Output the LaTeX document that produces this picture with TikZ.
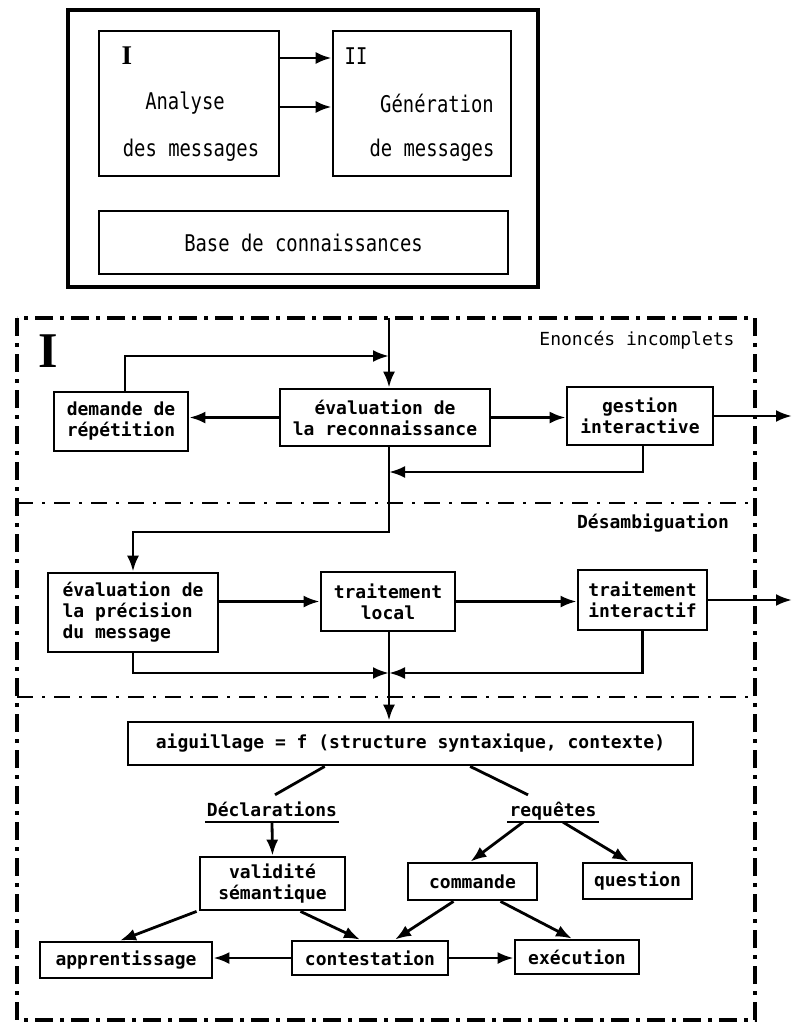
\documentclass[tikz,border=0pt]{standalone}
\usepackage{fontspec}
\usetikzlibrary{arrows.meta,calc}
\newfontfamily\monof{DejaVu Sans Mono}
\newfontfamily\tallf[FakeStretch=0.82]{DejaVu Sans Mono}
\newfontfamily\romanI{Liberation Serif}

\begin{document}
\begin{tikzpicture}[x=1pt,y=-1pt,
  box/.style={draw, line width=2.8pt, inner sep=0pt, align=center,
    font=\monof\bfseries\fontsize{18}{21}\selectfont},
  bigbox/.style={draw, line width=2.8pt, inner sep=0pt},
  toptext/.style={inner sep=0pt, font=\tallf\fontsize{23}{26}\selectfont},
  lab/.style={inner sep=0pt, font=\monof\fontsize{18}{22}\selectfont},
  labb/.style={inner sep=0pt, font=\monof\bfseries\fontsize{18}{22}\selectfont},
  branch/.style={anchor=base, inner xsep=2pt, inner ysep=2pt, text height=13pt,
    text depth=4pt, font=\monof\bfseries\fontsize{18}{22}\selectfont},
  arr/.style={line width=2.8pt, -{Latex[length=16pt,width=12pt]}},
  link/.style={line width=2.8pt},
  frame/.style={line width=3.4pt, dash pattern=on 18pt off 7pt on 4pt off 7pt},
  sep/.style={line width=2.2pt, dash pattern=on 16pt off 9pt on 3pt off 9pt},
]
\useasboundingbox (0,0) rectangle (792,1028);

% ---------- overall system ----------
\node[draw, line width=4pt, minimum width=470pt, minimum height=277pt] (sys) at (303,148.5) {};
\node[bigbox, minimum width=180pt, minimum height=145pt] (ana) at (189,103.5) {};
\node[bigbox, minimum width=178pt, minimum height=145pt] (gen) at (422,103.5) {};
\node[bigbox, minimum width=409pt, minimum height=63pt, font=\tallf\fontsize{23}{26}\selectfont] (kb) at (303.5,242.5) {Base de connaissances};

\node[inner sep=0pt, font=\romanI\bfseries\fontsize{27}{30}\selectfont] (anaI) at (127,56) {I};
\node[toptext] (genII) at (356,56) {II};
\node[toptext] (ana1) at (185,103) {Analyse};
\node[toptext] (ana2) at (191,150) {des messages};
\node[toptext] (gen1) at (437,103) {Génération};
\node[toptext] (gen2) at (432,150) {de messages};

\draw[arr] ([yshift=45.5pt]ana.east) -- ([yshift=45.5pt]gen.west);
\draw[arr] ([yshift=-3.5pt]ana.east) -- ([yshift=-3.5pt]gen.west);

% ---------- module I ----------
\draw[frame] (17,318) rectangle (755,1020);
\draw[sep] (17,503) -- (755,503);
\draw[sep] (17,697) -- (755,697);

\node[inner sep=0pt, font=\romanI\bfseries\fontsize{50}{52}\selectfont] (modI) at (48,351) {I};
\node[lab] (zone1) at (637,340) {Enoncés incomplets};
\node[labb] (zone2) at (653,523) {Désambiguation};

% incomplete utterances
\node[box, minimum width=134pt, minimum height=59pt] (dem) at (121,421.5) {demande de\\répétition};
\node[box, minimum width=210pt, minimum height=57pt] (evr) at (385,417.5) {évaluation de\\la reconnaissance};
\node[box, minimum width=146pt, minimum height=58pt] (gest) at (640,416) {gestion\\interactive};

\coordinate (topin) at (389,318);
\coordinate (fb) at (389,356);
\coordinate (j1) at (389,472);
\coordinate (k1) at (389,532);
\coordinate (out1) at (792,410);

\draw[arr] (topin) -- (topin |- evr.north);
\draw[arr] ([xshift=4pt]dem.north) |- (fb);
\draw[arr] (evr.west) -- (evr.west -| dem.east);
\draw[arr] (evr.east) -- (evr.east -| gest.west);
\draw[arr] (gest.east) -- (gest.east -| out1);
\draw[arr] ([xshift=3pt]gest.south) |- (j1);

% disambiguation
\node[box, minimum width=170pt, minimum height=79pt, align=left] (evp) at (133,612.5) {évaluation de\\la précision\\du message};
\node[box, minimum width=134pt, minimum height=59pt] (loc) at (388,601.5) {traitement\\local};
\node[box, minimum width=129pt, minimum height=60pt] (int) at (642.5,600) {traitement\\interactif};

\coordinate (j2) at (389,673);
\coordinate (out2) at (792,602);

\draw[arr] (evr.south -| k1) -- (k1) -| (evp.north);
\draw[arr] (evp.east |- loc.west) -- (loc.west);
\draw[arr] (loc.east) -- (loc.east -| int.west);
\draw[arr] (int.east) -- (int.east -| out2);
\draw[arr] (int.south) |- (j2);
\draw[arr] (evp.south) |- (j2);

% dispatching
\node[box, minimum width=565pt, minimum height=43pt] (aig) at (410.5,743.5) {aiguillage = f (structure syntaxique, contexte)};
\draw[arr] (loc.south -| j2) -- (j2 |- aig.north);

\node[branch] (decl) at (272,816) {Déclarations};
\node[branch] (req) at (553,816) {requêtes};
\draw[line width=2pt] (decl.south west) -- (decl.south east);
\draw[line width=2pt] (req.south west) -- (req.south east);

\draw[link] ($(aig.south west)!0.349!(aig.south east)$) -- ($(decl.north)+(3,-6)$);
\draw[link] ($(aig.south west)!0.605!(aig.south east)$) -- ($(req.north)+(-25,-6)$);

\node[box, minimum width=145pt, minimum height=53pt] (val) at (272.5,883.5) {validité\\sémantique};
\node[box, minimum width=129pt, minimum height=37pt] (com) at (472.5,881.5) {commande};
\node[box, minimum width=109pt, minimum height=36pt] (que) at (637.5,881) {question};
\node[box, minimum width=172pt, minimum height=36pt] (app) at (126,960) {apprentissage};
\node[box, minimum width=156pt, minimum height=34pt] (con) at (370,958) {contestation};
\node[box, minimum width=124pt, minimum height=34pt] (exe) at (577,957) {exécution};

\draw[arr] (decl.south) -- (val.north);
\draw[arr] ($(req.south)+(-30,0)$) -- ($(com.north)+(-2,0)$);
\draw[arr] ($(req.south)+(10,0)$) -- ($(que.north)+(-9,0)$);

\draw[arr] ($(val.south west)+(-2,0)$) -- ($(app.north)+(-6,0)$);
\draw[arr] ($(val.south)+(28,0)$) -- ($(con.north)+(-10,0)$);
\draw[arr] ($(com.south)+(-19,0)$) -- ($(con.north)+(25,0)$);
\draw[arr] ($(com.south)+(28,0)$) -- ($(exe.north)+(-5,0)$);

\draw[arr] (con.west) -- (con.west -| app.east);
\draw[arr] (con.east) -- (con.east -| exe.west);
\end{tikzpicture}
\end{document}
